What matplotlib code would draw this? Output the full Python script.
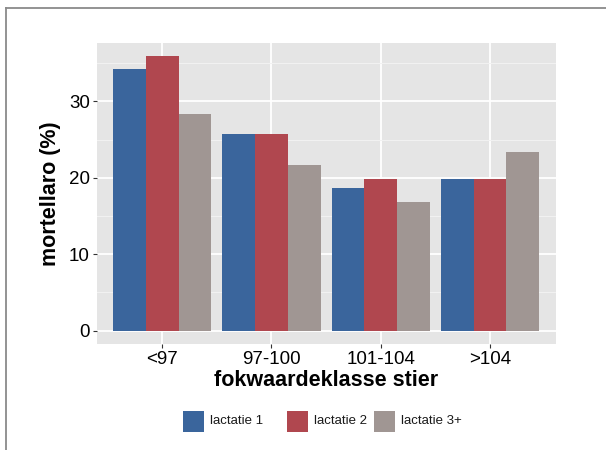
import matplotlib
matplotlib.use('Agg')
import matplotlib.pyplot as plt
from matplotlib.patches import Rectangle
from matplotlib.lines import Line2D
import numpy as np

# data
klassen = ['<97', '97-100', '101-104', '>104']
lactatie_1 = [34.2, 25.7, 18.7, 19.9]
lactatie_2 = [35.9, 25.7, 19.9, 19.9]
lactatie_3 = [28.4, 21.7, 16.8, 23.4]
reeks_namen = ['lactatie 1', 'lactatie 2', 'lactatie 3+']
kleuren = ['#3A659C', '#B0474F', '#A09693']

plt.rcParams['font.family'] = ['Liberation Sans', 'DejaVu Sans']

W, H = 606, 450
fig = plt.figure(figsize=(W / 100, H / 100), dpi=100)
fig.patch.set_facecolor('white')

# paneel in pixelcoordinaten
x0, x1, y0, y1 = 96.7, 555.5, 42.7, 344.3
ax = fig.add_axes([x0 / W, 1 - y1 / H, (x1 - x0) / W, (y1 - y0) / H])
ax.set_facecolor('#E5E5E5')

x = np.arange(len(klassen))
breedte = 0.3
for j, (waarden, kleur) in enumerate(zip([lactatie_1, lactatie_2, lactatie_3], kleuren)):
    ax.bar(x + (j - 1) * breedte, waarden, width=breedte, color=kleur, zorder=3)

ymax = max(max(lactatie_1), max(lactatie_2), max(lactatie_3))
ax.set_xlim(-0.6, len(klassen) - 0.4)
ax.set_ylim(-0.05 * ymax, 1.05 * ymax)

ax.set_xticks(x)
ax.set_xticklabels(klassen)
ax.set_yticks([0, 10, 20, 30])
ax.set_yticks([5, 15, 25, 35], minor=True)
ax.grid(which='major', color='white', linewidth=1.3, zorder=0)
ax.grid(which='minor', axis='y', color='#F2F2F2', linewidth=0.7, zorder=0)
ax.set_axisbelow(True)
for s in ax.spines.values():
    s.set_visible(False)

ax.tick_params(axis='both', which='major', length=3.8 * 0.72, width=0.8, color='#333333',
               labelsize=13.5, labelcolor='black', pad=2.2)
ax.tick_params(axis='both', which='minor', length=0)

ax.set_xlabel('fokwaardeklasse stier', fontsize=15.5, fontweight='bold', labelpad=1)
ax.set_ylabel('mortellaro (%)', fontsize=15.5, fontweight='bold', labelpad=6)

# legenda onderaan
legend_boxes = [183.0, 287.0, 374.0]
for naam, kleur, bx in zip(reeks_namen, kleuren, legend_boxes):
    fig.add_artist(Rectangle((bx / W, 1 - 431.7 / H), 20.7 / W, 20.7 / H,
                             transform=fig.transFigure, facecolor=kleur, edgecolor='none'))
    fig.text((bx + 27) / W, 1 - 421.5 / H, naam, fontsize=9.5, va='center', ha='left',
             color='#1a1a1a')

# rand van de afbeelding
fig.add_artist(Line2D([5.7 / W, 1.0], [1 - 7.5 / H, 1 - 7.5 / H], transform=fig.transFigure,
                      color='#8a8a8a', linewidth=1.3))
fig.add_artist(Line2D([5.7 / W, 5.7 / W], [1 - 7.5 / H, 0.0], transform=fig.transFigure,
                      color='#8a8a8a', linewidth=1.3))

fig.savefig('out.png', dpi=100)
